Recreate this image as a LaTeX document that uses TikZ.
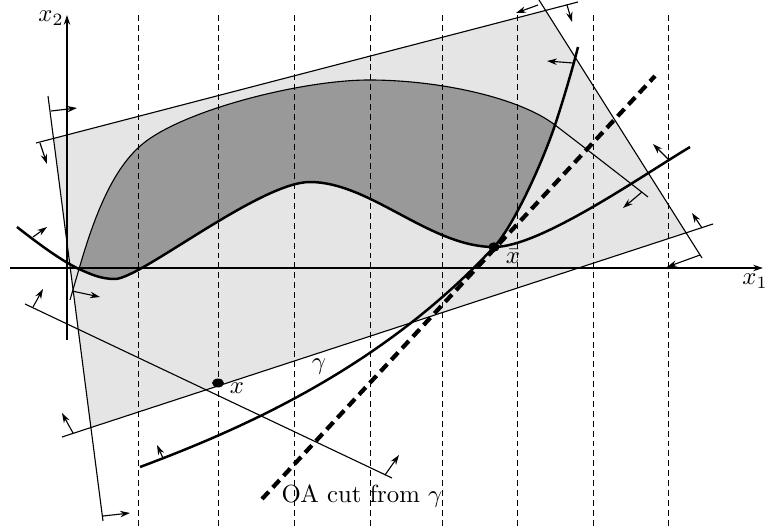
\documentclass[tikz,border=0pt]{standalone}
\usepackage{amsmath, amssymb}
\usetikzlibrary{arrows.meta,calc}

\begin{document}
\begin{tikzpicture}[x=0.0142cm, y=-0.0142cm, >={Stealth[length=4pt,width=2.6pt]},
    bound/.style={line width=0.45pt},
    thickcurve/.style={line width=1pt},
    normarrow/.style={->, line width=0.45pt},
    vline/.style={line width=0.4pt, dash pattern=on 2.4pt off 1.6pt},
    tangent/.style={line width=1.7pt, dash pattern=on 4pt off 2.4pt}]
    \useasboundingbox (0,0) rectangle (766,527);

    % end points of the four cuts and of the cut through x
    \coordinate (tA) at (36,143);  \coordinate (tB) at (578,2);
    \coordinate (rA) at (539,0);   \coordinate (rB) at (702,258);
    \coordinate (bA) at (62,437);  \coordinate (bB) at (713,224);
    \coordinate (lA) at (48,96);   \coordinate (lB) at (103,521);
    \coordinate (cA) at (25,304);  \coordinate (cB) at (392,478);
    \coordinate (jn) at (79,269);
    \coordinate (tip) at (555,125);
    \coordinate (xbar) at (494,247);
    \coordinate (xpt) at (218,383);

    % polyhedral outer approximation
    \fill[black!10] (intersection of tA--tB and lA--lB)
        -- (intersection of tA--tB and rA--rB)
        -- (intersection of rA--rB and bA--bB)
        -- (intersection of bA--bB and lA--lB) -- cycle;

    % feasible set
    \fill[black!40] (jn) .. controls (91,228) and (108,176) .. (138,148)
        .. controls (175,112) and (300,80) .. (369,80)
        .. controls (440,80) and (520,98) .. (tip)
        .. controls (543,161) and (514,225.5) .. (xbar)
        .. controls (430,247) and (370,182) .. (310,182)
        .. controls (260,182) and (140,279) .. (115,279)
        .. controls (102,279) and (92,275) .. (jn) -- cycle;

    \foreach \xx in {138,218,294,370,442,517,593,668}
        \draw[vline] (\xx,15) -- (\xx,527);

    \draw[->, line width=0.45pt] (10,268) -- (763,268);
    \draw[->, line width=0.45pt] (67,340) -- (67,15);

    \draw[bound] (tA) -- (tB);
    \draw[bound] (rA) -- (rB);
    \draw[bound] (bA) -- (bB);
    \draw[bound] (lA) -- (lB);
    \draw[bound] (cA) -- (cB);

    \draw[bound] (70,300) -- (jn) .. controls (91,228) and (108,176) .. (138,148)
        .. controls (175,112) and (300,80) .. (369,80)
        .. controls (440,80) and (520,98) .. (tip)
        .. controls (585,148) and (620,175) .. (648,197);
    \draw[thickcurve] (17,227) .. controls (40,245) and (62,261) .. (jn)
        .. controls (92,275) and (102,279) .. (115,279)
        .. controls (140,279) and (260,182) .. (310,182)
        .. controls (370,182) and (430,247) .. (xbar)
        .. controls (540,247) and (640,177) .. (690,147);
    \draw[thickcurve] (140,467) .. controls (250,426) and (384,365) .. (xbar)
        .. controls (514,225.5) and (543,161) .. (tip)
        .. controls (563,101) and (573,67) .. (578,47);

    \draw[tangent] (262,499) -- (655,76);

    % normals of the cuts
    \draw[normarrow] (51,111) -- (77,108);
    \draw[normarrow] (40,143) -- (47,164);
    \draw[normarrow] (103,516) -- (130,513);
    \draw[normarrow] (73,433) -- (62,413);
    \draw[normarrow] (33,307) -- (43,289);
    \draw[normarrow] (385,475) -- (399,455);
    \draw[normarrow] (33,237) -- (47,227);
    \draw[normarrow] (668,159) -- (653,144);
    \draw[normarrow] (72,291) -- (100,297);
    \draw[normarrow] (642,192) -- (623,208);
    \draw[normarrow] (573,63) -- (547,61);
    \draw[normarrow] (163,458) -- (157,445);
    \draw[normarrow] (538,5) -- (516,13);
    \draw[normarrow] (567,5) -- (572,22);
    \draw[normarrow] (700,255) -- (667,267);
    \draw[normarrow] (702,228) -- (692,213);

    \fill (xbar) ellipse (2.3pt and 1.9pt);
    \fill (xpt) ellipse (2.4pt and 1.8pt);

    \node (xbarlbl) at (513,256) {\(\bar{x}\)};
    \node (xlbl) at (237,388) {\(x\)};
    \node (gammalbl) at (319,367) {\(\gamma\)};
    \node[anchor=base] (cutlbl) at (362,502) {OA cut from \(\gamma\)};
    \node (xonelbl) at (755,281) {\(x_1\)};
    \node (xtwolbl) at (51,18) {\(x_2\)};
\end{tikzpicture}
\end{document}
